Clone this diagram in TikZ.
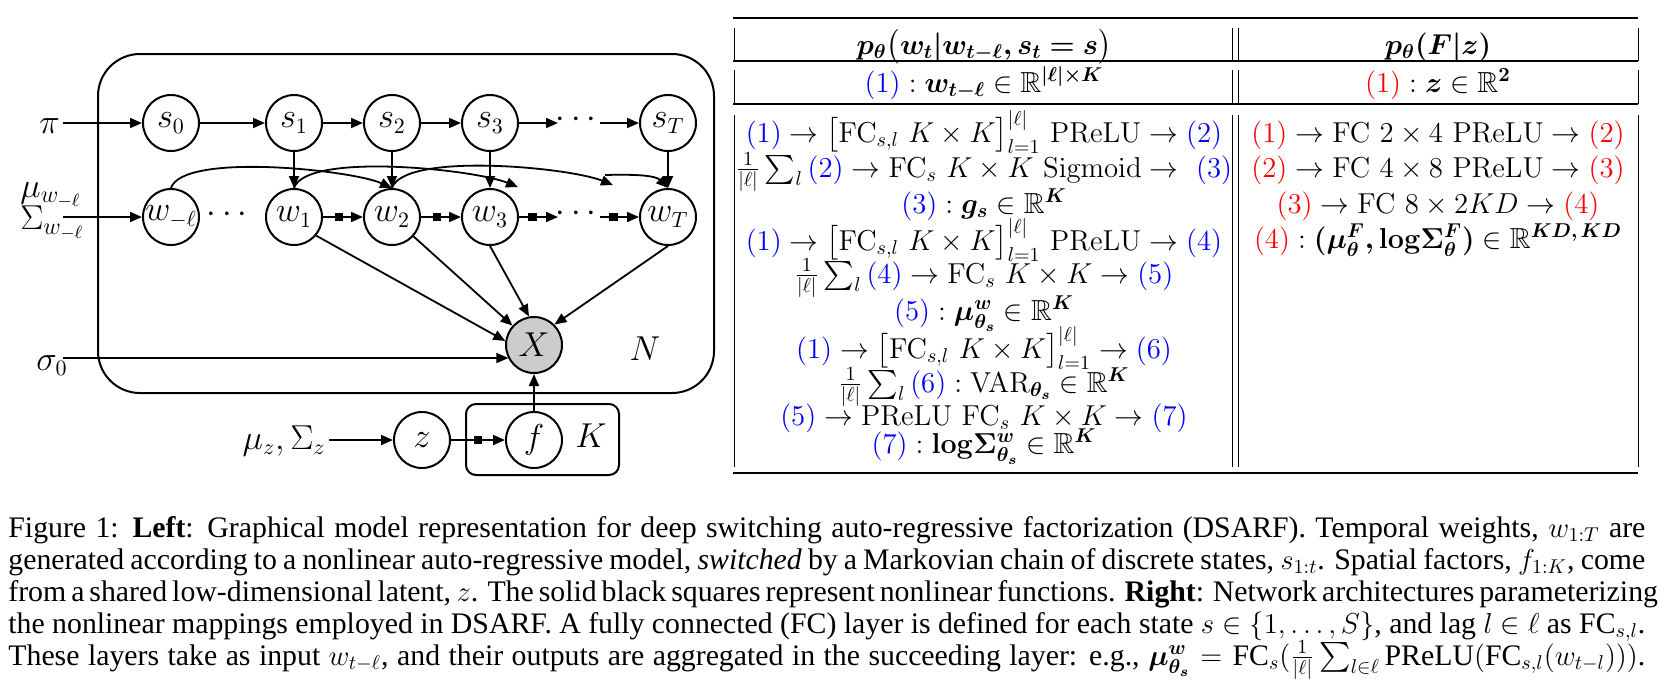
\documentclass[tikz,border=0pt]{standalone}
\usepackage{amsmath,amssymb,bm}
\usepackage[no-math]{fontspec}
\newfontfamily\capfont{Liberation Serif}
\usetikzlibrary{arrows.meta}
\begin{document}
\begin{tikzpicture}[x=0.5pt,y=-0.5pt,
  gnode/.style={circle,draw,line width=1pt,minimum size=28pt,inner sep=0pt,font=\fontsize{16}{19}\selectfont},
  arr/.style={line width=0.9pt,-{Triangle[length=6pt,width=5pt]}},
  sq/.style={rectangle,fill=black,draw=none,inner sep=0pt,minimum size=4.2pt},
  plate/.style={draw,line width=1pt},
  lab/.style={font=\fontsize{16}{19}\selectfont,inner sep=0pt},
  tl/.style={font=\fontsize{14.5}{17}\selectfont,anchor=base,inner sep=0pt},
  hrule/.style={line width=0.9pt},
  vrule/.style={line width=0.5pt},
  capline/.style={font=\capfont\fontsize{14.9}{16}\selectfont,anchor=base west,inner sep=0pt}]
\useasboundingbox (0,0) rectangle (1676,693);

% plates
\draw[plate,rounded corners=21pt] (98,54) rectangle (714,393);
\draw[plate,rounded corners=5pt] (466,404) rectangle (619,475);

% state row
\node[gnode] (s0) at (171,123) {$s_0$};
\node[gnode] (s1) at (294,123) {$s_1$};
\node[gnode] (s2) at (392,123) {$s_2$};
\node[gnode] (s3) at (490,123) {$s_3$};
\node[lab] (sdots) at (579,120) {$\cdots$};
\node[gnode] (sT) at (668,123) {$s_T$};
\coordinate (sd1) at (558,123);
\coordinate (sd2) at (600,123);

% weight row
\node[gnode] (wl) at (171,217) {$w_{-\ell}$};
\node[lab] (wldots) at (230,215) {$\cdots$};
\node[gnode] (w1) at (294,217) {$w_1$};
\node[gnode] (w2) at (392,217) {$w_2$};
\node[gnode] (w3) at (490,217) {$w_3$};
\node[lab] (wdots) at (579,214) {$\cdots$};
\node[gnode] (wT) at (668,217) {$w_T$};
\coordinate (wd1) at (558,217);
\coordinate (wd2) at (600,217);

% observation and factors
\node[gnode,fill=black!20] (X) at (534,345) {$X$};
\node[gnode] (z) at (422,440) {$z$};
\node[gnode] (f) at (534,440) {$f$};

% labels
\node[lab,anchor=base west] (pi) at (39,133) {$\pi$};
\node[lab,anchor=base west,font=\fontsize{17}{20}\selectfont] (muw) at (20,197) {$\mu_{\hbox{\fontsize{13}{15}\selectfont$w_{-\ell}$}}$};
\node[lab,anchor=base west,font=\fontsize{17}{20}\selectfont] (sigw) at (20,229) {$\Sigma_{\hbox{\fontsize{13}{15}\selectfont$w_{-\ell}$}}$};
\node[lab,anchor=base west] (sig0) at (36,370) {$\sigma_0$};
\node[lab,anchor=base east] (muz) at (326,449) {$\mu_z,\Sigma_z$};
\node[lab,anchor=base] (N) at (645,360) {$N$};
\node[lab,anchor=base] (K) at (591,447) {$K$};
\coordinate (piin) at (63,123);
\coordinate (win) at (63,217);
\coordinate (sigin) at (63,358);
\coordinate (zin) at (329,440);

% input arrows
\draw[arr] (piin) -- (s0);
\draw[arr] (win) -- (wl);
\draw[arr] (sigin) -- (sigin -| X.208);
\draw[arr] (zin) -- (z);

% state chain
\draw[arr] (s0) -- (s1);
\draw[arr] (s1) -- (s2);
\draw[arr] (s2) -- (s3);
\draw[arr] (s3) -- (sd1);
\draw[arr] (sd2) -- (sT);

% state to weight
\draw[arr] (s1) -- (w1);
\draw[arr] (s2) -- (w2);
\draw[arr] (s3) -- (w3);
\draw[arr] (sT) -- (wT);

% weight chain with nonlinear squares
\draw[arr] (w1) -- node[sq,pos=0.4]{} (w2);
\draw[arr] (w2) -- node[sq,pos=0.4]{} (w3);
\draw[arr] (w3) -- node[sq,pos=0.35]{} (wd1);
\draw[arr] (wd2) -- node[sq,pos=0.35]{} (wT);
\draw[arr] (z) -- node[sq,pos=0.5]{} (f);

% lag curves
\coordinate (c1) at (518,187);
\coordinate (c2) at (613,185);
\coordinate (c3) at (605,175);
\draw[arr] (wl.north) .. controls +(12,-36) and +(-40,-18) .. (w2.north);
\draw[arr] (w1.north) .. controls +(12,-36) and +(-45,-18) .. (c1);
\draw[arr] (w2.north) .. controls +(12,-36) and +(-45,-18) .. (c2);
\draw[arr] (c3) .. controls +(35,-1) and +(-12,-12) .. (wT.north);

% weights to X
\draw[arr] (w1.-40) -- (X.172);
\draw[arr] (w2) -- (X);
\draw[arr] (w3.south) -- (X.100);
\draw[arr] (wT.south) -- (X.45);
\draw[arr] (f) -- (X);

% ---------- table ----------
\draw[hrule] (733,18) -- (1638,18);
\draw[hrule] (733,61) -- (1638,61);
\draw[hrule] (733,104) -- (1638,104);
\draw[hrule] (733,473) -- (1638,473);
\foreach \xx in {734,1232,1238,1638}{
  \draw[vrule] (\xx,28) -- (\xx,61);
  \draw[vrule] (\xx,70) -- (\xx,104);
  \draw[vrule] (\xx,115) -- (\xx,467);
}

\node[tl] (h1) at (984,54) {$\boldsymbol{p_\theta}\bigl(\boldsymbol{w_t|w_{t-\ell}, s_t = s}\bigr)$};
\node[tl] (h2) at (1438,54) {$\boldsymbol{p_\theta(F|z)}$};
\node[tl] (r1) at (984,92) {$\textcolor{blue}{(1)} : \boldsymbol{w_{t-\ell}}\in\mathbb{R}^{\boldsymbol{|\ell|\times K}}$};
\node[tl] (r2) at (1438,92) {$\textcolor{red}{(1)} : \boldsymbol{z}\in\mathbb{R}^{\boldsymbol{2}}$};

\node[tl] (a1) at (984,142) {$\textcolor{blue}{(1)}\rightarrow\bigl[\mathrm{FC}_{s,l}\ K\times K\bigr]_{l=1}^{|\ell|}\ \mathrm{PReLU}\rightarrow\textcolor{blue}{(2)}$};
\node[tl] (a2) at (984,177) {$\frac{1}{|\ell|}\sum_l \textcolor{blue}{(2)}\rightarrow\mathrm{FC}_s\ K\times K\ \mathrm{Sigmoid}\rightarrow\ \textcolor{blue}{(3)}$};
\node[tl] (a3) at (984,213) {$\textcolor{blue}{(3)} : \boldsymbol{g_s}\in\mathbb{R}^{\boldsymbol{K}}$};
\node[tl] (a4) at (984,250) {$\textcolor{blue}{(1)}\rightarrow\bigl[\mathrm{FC}_{s,l}\ K\times K\bigr]_{l=1}^{|\ell|}\ \mathrm{PReLU}\rightarrow\textcolor{blue}{(4)}$};
\node[tl] (a5) at (984,283) {$\frac{1}{|\ell|}\sum_l \textcolor{blue}{(4)}\rightarrow\mathrm{FC}_s\ K\times K\rightarrow\textcolor{blue}{(5)}$};
\node[tl] (a6) at (984,320) {$\textcolor{blue}{(5)} : \boldsymbol{\mu^{w}_{\theta_s}}\in\mathbb{R}^{\boldsymbol{K}}$};
\node[tl] (a7) at (984,358) {$\textcolor{blue}{(1)}\rightarrow\bigl[\mathrm{FC}_{s,l}\ K\times K\bigr]_{l=1}^{|\ell|}\rightarrow\textcolor{blue}{(6)}$};
\node[tl] (a8) at (984,392) {$\frac{1}{|\ell|}\sum_l \textcolor{blue}{(6)} : \mathrm{VAR}_{\boldsymbol{\theta_s}}\in\mathbb{R}^{\boldsymbol{K}}$};
\node[tl] (a9) at (984,425) {$\textcolor{blue}{(5)}\rightarrow\mathrm{PReLU}\ \mathrm{FC}_s\ K\times K\rightarrow\textcolor{blue}{(7)}$};
\node[tl] (a10) at (984,453) {$\textcolor{blue}{(7)} : \mathbf{log}\boldsymbol{\Sigma^{w}_{\theta_s}}\in\mathbb{R}^{\boldsymbol{K}}$};

\node[tl] (b1) at (1438,142) {$\textcolor{red}{(1)}\rightarrow\mathrm{FC}\ 2\times 4\ \mathrm{PReLU}\rightarrow\textcolor{red}{(2)}$};
\node[tl] (b2) at (1438,177) {$\textcolor{red}{(2)}\rightarrow\mathrm{FC}\ 4\times 8\ \mathrm{PReLU}\rightarrow\textcolor{red}{(3)}$};
\node[tl] (b3) at (1438,213) {$\textcolor{red}{(3)}\rightarrow\mathrm{FC}\ 8\times 2KD\rightarrow\textcolor{red}{(4)}$};
\node[tl] (b4) at (1438,248) {$\textcolor{red}{(4)} : \boldsymbol{(\mu^{F}_{\theta},}\mathbf{log}\boldsymbol{\Sigma^{F}_{\theta})}\in\mathbb{R}^{\boldsymbol{KD,\,KD}}$};

% ---------- caption ----------
\node[capline] (cap1) at (8,537) {\makebox[818.5pt][s]{Figure 1: \textbf{Left}: Graphical model representation for deep switching auto-regressive factorization (DSARF). Temporal weights, $w_{1:T}$ are}};
\node[capline] (cap2) at (8,569) {\makebox[818.5pt][s]{generated according to a nonlinear auto-regressive model, \textit{switched} by a Markovian chain of discrete states, $s_{1:t}$. Spatial factors, $f_{1:K}$, come}};
\node[capline] (cap3) at (8,601) {\makebox[818.5pt][s]{from a shared low-dimensional latent, $z$. The solid black squares represent nonlinear functions. \textbf{Right}: Network architectures parameterizing}};
\node[capline] (cap4) at (8,633) {\makebox[818.5pt][s]{the nonlinear mappings employed in DSARF. A fully connected (FC) layer is defined for each state $s\in\{1,\ldots,S\}$, and lag $l\in\ell$ as $\text{FC}_{s,l}$.}};
\node[capline] (cap5) at (8,665) {\makebox[818.5pt][s]{These layers take as input $w_{t-\ell}$, and their outputs are aggregated in the succeeding layer: e.g., $\boldsymbol{\mu^{w}_{\theta_s}}=\text{FC}_s(\frac{1}{|\ell|}\sum_{l\in\ell}\text{PReLU}(\text{FC}_{s,l}(w_{t-l})))$.}};
\end{tikzpicture}
\end{document}
